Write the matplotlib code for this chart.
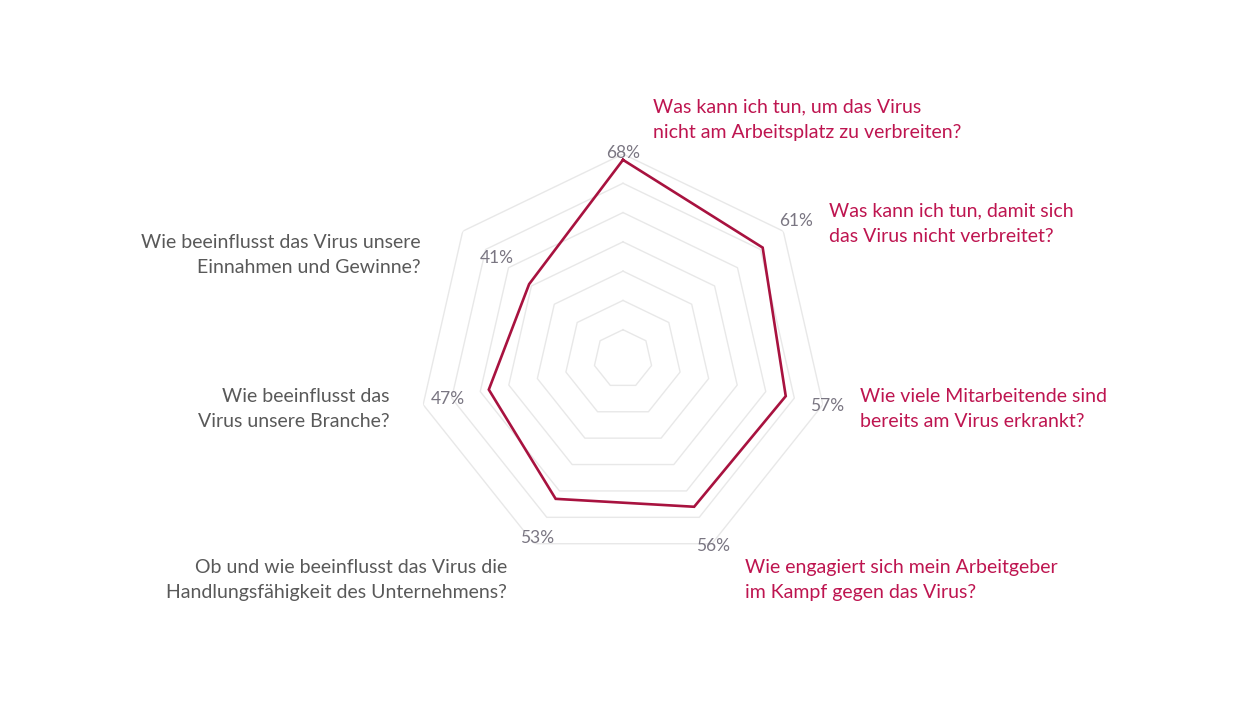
import numpy as np
import matplotlib.pyplot as plt

# values clockwise from the top
questions = [
    "Was kann ich tun, um das Virus\nnicht am Arbeitsplatz zu verbreiten?",
    "Was kann ich tun, damit sich\ndas Virus nicht verbreitet?",
    "Wie viele Mitarbeitende sind\nbereits am Virus erkrankt?",
    "Wie engagiert sich mein Arbeitgeber\nim Kampf gegen das Virus?",
    "Ob und wie beeinflusst das Virus die\nHandlungsfähigkeit des Unternehmens?",
    "Wie beeinflusst das\nVirus unsere Branche?",
    "Wie beeinflusst das Virus unsere\nEinnahmen und Gewinne?",
]
shares = [68, 61, 57, 56, 53, 47, 41]
rings = [10, 20, 30, 40, 50, 60, 70]

# layout: value-label radius (data units) and question text anchor (pixels)
label_r = [70.5, 75.5, 71.4, 70.7, 67.8, 61.5, 55.1]
q_pos = [(653, 120, "left"), (829, 224, "left"), (860, 409, "left"),
         (745, 580, "left"), (507, 580, "right"), (390, 409, "right"),
         (421, 255, "right")]
q_col = ["#BE1550"] * 4 + ["#595959"] * 3

plt.rcParams["font.family"] = ["Lato", "DejaVu Sans"]

W, H = 1250, 702
fig = plt.figure(figsize=(W / 100, H / 100), dpi=100)
cx, cy, R = 623, 359, 205
ax = fig.add_axes([(cx - R) / W, (H - cy - R) / H, 2 * R / W, 2 * R / H],
                  projection="polar")
ax.set_theta_zero_location("N")
ax.set_theta_direction(-1)
ax.set_ylim(0, 70)
ax.grid(False)
ax.spines["polar"].set_visible(False)
ax.set_xticks([])
ax.set_yticks([])
ax.patch.set_alpha(0)

n = len(shares)
theta = np.arange(n) * 2 * np.pi / n
tc = np.append(theta, theta[0])

for r in rings:
    ax.plot(tc, [r] * (n + 1), color="#E8E8E8", lw=1.0, zorder=1)

vals = shares + shares[:1]
ax.plot(tc, vals, color="#A8123F", lw=1.9, zorder=3, solid_joinstyle="miter")

for t, v, lr in zip(theta, shares, label_r):
    ax.text(t, lr, f"{v}%", ha="center", va="center", fontsize=12.5,
            color="#7A7682", zorder=4)

for q, (x, y, ha), c in zip(questions, q_pos, q_col):
    fig.text(x / W, 1 - y / H, q, ha=ha, va="center", fontsize=14,
             color=c, linespacing=1.6, multialignment=ha)

fig.savefig("out.png", dpi=100, facecolor="white")
